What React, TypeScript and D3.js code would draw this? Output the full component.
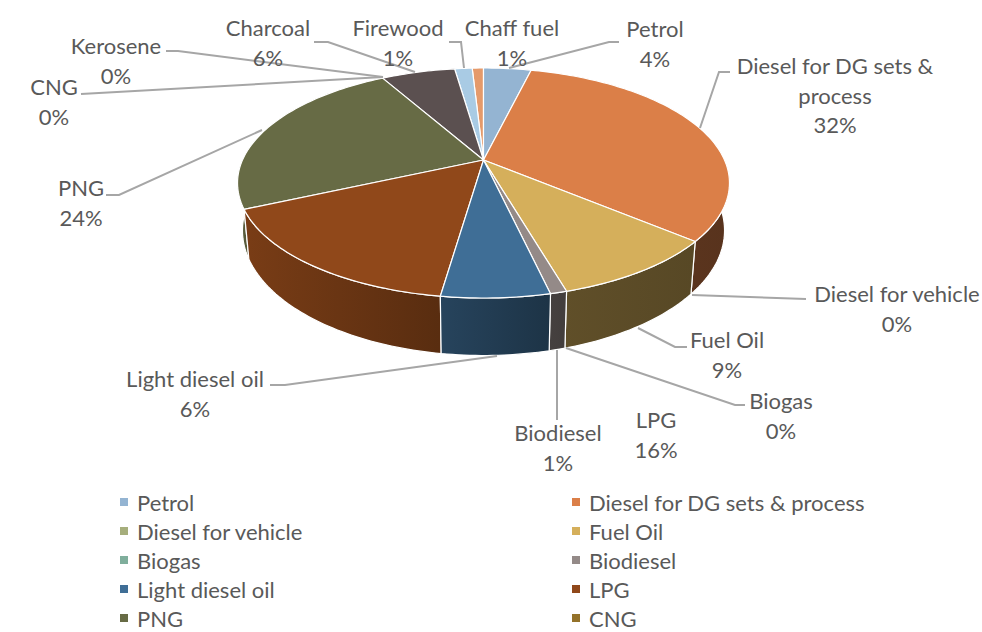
import React from "react";
import * as d3 from "d3";

const categories = [
  "Petrol",
  "Diesel for DG sets & process",
  "Diesel for vehicle",
  "Fuel Oil",
  "Biogas",
  "Biodiesel",
  "Light diesel oil",
  "LPG",
  "PNG",
  "CNG",
  "Kerosene",
  "Charcoal",
  "Firewood",
  "Chaff fuel",
];
const shares = [3.8, 32.4, 0, 9.4, 0, 0.9, 5.9, 16, 23.6, 0, 0, 5.9, 1.4, 0.9];
const colors = [
  "#94b4d2", "#db7f48", "#a6ae7c", "#d5af5b", "#7fae9c", "#948a88", "#3f6e96",
  "#90481a", "#676b45", "#94722a", "#8a8f96", "#5b5050", "#a9cbe4", "#e59a6b",
];
const legendItems = categories.slice(0, 10);

// label layout: name lines, centre x, first line y
const labelLayout: [string[], number, number][] = [
  [["Petrol"], 655, 28],
  [["Diesel for DG sets &"], 835, 65],
  [["Diesel for vehicle"], 897, 293],
  [["Fuel Oil"], 727, 339],
  [["Biogas"], 781, 400],
  [["Biodiesel"], 558, 432],
  [["Light diesel oil"], 195, 378],
  [["LPG"], 656, 419],
  [["PNG"], 81, 187],
  [["CNG"], 54, 86],
  [["Kerosene"], 116, 45],
  [["Charcoal"], 268, 27],
  [["Firewood"], 398, 27],
  [["Chaff fuel"], 512, 27],
];
labelLayout[1][0].push("process");

const leaders = [
  "M619,42H609L509,68",
  "M730,72H719L700,128",
  "M806,299L692,295",
  "M687,347H675L638,328",
  "M745,405H735L566,348",
  "M557,420V350",
  "M270,385H285L497,356",
  "M106,195H119L262,130",
  "M81,94L383,77",
  "M166,51H178L383,77",
  "M314,42H328L415,72",
  "M449,42H461L464,68",
];

const cx = 483.5;
const cy = 160;
const R = 241;
const persp = 0.2;

// perspective projection of the pie's top and bottom faces
const project = (angle: number, face: "top" | "bottom"): [number, number] => {
  const u = Math.sin(angle);
  const v = Math.cos(angle);
  const w = 1 + persp * v;
  if (face === "top") return [cx + (R * u) / w, cy - (110.4 * v) / w];
  return [cx + (R * 0.98 * u) / w, 205.5 - (120 * v) / w];
};

const pie = d3.pie<number>().sort(null).value((d) => d);
const slices = pie(shares);
const total = d3.sum(shares);
const pct = d3.format(".0%");
const line = d3.line();

const sweep = (a0: number, a1: number, face: "top" | "bottom") => {
  const steps = Math.max(2, Math.ceil((a1 - a0) / 0.02));
  return d3.range(steps + 1).map((i) => project(a0 + ((a1 - a0) * i) / steps, face));
};

// shading of the side wall from left to right
const shadeStops: [number, number][] = [
  [0, 0.85],
  [0.41, 0.62],
  [0.66, 0.45],
  [1, 0.4],
];

const font = "Lato, 'Open Sans', sans-serif";
const textColor = "#595959";
const fontSize = 22;

export default function App() {
  const visible = slices
    .map((s, i) => ({ s, i }))
    .filter((d) => d.s.value > 0)
    .sort((a, b) => Math.cos((b.s.startAngle + b.s.endAngle) / 2) - Math.cos((a.s.startAngle + a.s.endAngle) / 2));

  return (
    <svg
      width={982}
      height={632}
      viewBox="0 0 982 632"
      style={{ position: "absolute", left: 0, top: 0, display: "block", background: "#fff" }}
      fontFamily={font}
    >
      <defs>
        {visible.map(({ i }) => (
          <linearGradient key={i} id={`wall${i}`} gradientUnits="userSpaceOnUse" x1={238} x2={728} y1={0} y2={0}>
            {shadeStops.map(([o, f]) => {
              const c = d3.rgb(colors[i]);
              return <stop key={o} offset={o} stopColor={d3.rgb(c.r * f, c.g * f, c.b * f).formatHex()} />;
            })}
          </linearGradient>
        ))}
      </defs>

      {visible.map(({ s, i }) => {
        const top = sweep(s.startAngle, s.endAngle, "top");
        const bottom = sweep(s.startAngle, s.endAngle, "bottom").reverse();
        return (
          <path
            key={i}
            d={line([...top, ...bottom]) + "Z"}
            fill={`url(#wall${i})`}
            stroke="#fff"
            strokeWidth={1.2}
            strokeLinejoin="round"
          />
        );
      })}
      {visible.map(({ s, i }) => (
        <path
          key={i}
          d={line([[cx, cy], ...sweep(s.startAngle, s.endAngle, "top")]) + "Z"}
          fill={colors[i]}
          stroke="#fff"
          strokeWidth={1.2}
          strokeLinejoin="round"
        />
      ))}

      {leaders.map((d) => (
        <path key={d} d={d} fill="none" stroke="#a6a6a6" strokeWidth={2} />
      ))}

      {labelLayout.map(([names, x, y], i) => (
        <text key={i} x={x} y={y} fontSize={fontSize} fill={textColor} textAnchor="middle" dominantBaseline="central">
          {[...names, pct(shares[i] / total)].map((t, j) => (
            <tspan key={j} x={x} y={y + j * 29.5}>
              {t}
            </tspan>
          ))}
        </text>
      ))}

      {legendItems.map((name, i) => {
        const x = i % 2 === 0 ? 120 : 572;
        const y = 502 + Math.floor(i / 2) * 29;
        return (
          <g key={name}>
            <rect x={x} y={y - 4} width={8} height={8} fill={colors[i]} />
            <text x={x + 17} y={y} fontSize={fontSize} fill={textColor} dominantBaseline="central">
              {name}
            </text>
          </g>
        );
      })}
    </svg>
  );
}
